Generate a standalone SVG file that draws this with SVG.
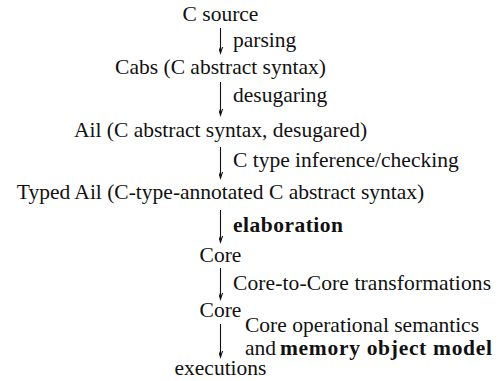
<svg xmlns="http://www.w3.org/2000/svg" width="500" height="381" viewBox="0 0 500 381">
<style>
text{font-family:"Liberation Serif","DejaVu Serif",serif;font-size:21.5px;fill:#111}
.n{text-anchor:middle}
.b{font-weight:bold}
.c{stroke:#111;stroke-width:1.1;fill:none}
</style>
<defs>
<marker id="ah" markerUnits="userSpaceOnUse" markerWidth="12" markerHeight="14" viewBox="-6 -12 12 14" refX="0" refY="0" orient="auto-start-reverse">
<path d="M-4.2,-11 Q-1.2,-4 0,0 Q1.2,-4 4.2,-11" transform="rotate(-90)" class="c"/>
</marker>
</defs>
<rect width="500" height="381" fill="#fff"/>
<g id="connectors">
<line class="c" x1="220.5" y1="28" x2="220.5" y2="53" marker-end="url(#ah)"/>
<line class="c" x1="220.5" y1="82" x2="220.5" y2="115" marker-end="url(#ah)"/>
<line class="c" x1="220.5" y1="147" x2="220.5" y2="178" marker-end="url(#ah)"/>
<line class="c" x1="220.5" y1="210" x2="220.5" y2="242" marker-end="url(#ah)"/>
<line class="c" x1="220.5" y1="268" x2="220.5" y2="299" marker-end="url(#ah)"/>
<line class="c" x1="220.5" y1="324" x2="220.5" y2="357" marker-end="url(#ah)"/>
<text x="233" y="47">parsing</text>
<text x="233" y="102">desugaring</text>
<text x="233" y="167">C type inference/checking</text>
<text x="233" y="232" class="b" textLength="110" lengthAdjust="spacing">elaboration</text>
<text x="233" y="290" textLength="258" lengthAdjust="spacing">Core-to-Core transformations</text>
<text x="245" y="332">Core operational semantics</text>
<text x="245" y="355">and</text>
<text x="280" y="355" class="b" textLength="212" lengthAdjust="spacing">memory object model</text>
</g>
<g id="n-csource"><text class="n" x="220.5" y="21">C source</text></g>
<g id="n-cabs"><text class="n" x="220.5" y="74">Cabs (C abstract syntax)</text></g>
<g id="n-ail"><text class="n" x="220.5" y="137">Ail (C abstract syntax, desugared)</text></g>
<g id="n-typedail"><text class="n" x="220.5" y="199">Typed Ail (C-type-annotated C abstract syntax)</text></g>
<g id="n-core1"><text class="n" x="220.5" y="262">Core</text></g>
<g id="n-core2"><text class="n" x="220.5" y="317">Core</text></g>
<g id="n-exec"><text class="n" x="220.5" y="375">executions</text></g>
</svg>
